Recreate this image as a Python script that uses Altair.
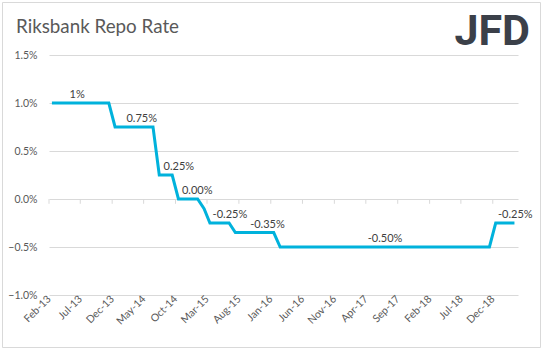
import altair as alt
import pandas as pd

# ---- data ----
month_str = [d.strftime("%Y-%m-") + "15" for d in pd.date_range("2013-02-01", periods=74, freq="MS")]

rate = [
    1.00, 1.00, 1.00, 1.00, 1.00, 1.00, 1.00, 1.00, 1.00, 1.00,   # Feb-13 .. Nov-13
    0.75, 0.75, 0.75, 0.75, 0.75, 0.75, 0.75,                     # Dec-13 .. Jun-14
    0.25, 0.25, 0.25,                                             # Jul-14 .. Sep-14
    0.00, 0.00, 0.00, 0.00,                                       # Oct-14 .. Jan-15
    -0.10,                                                        # Feb-15
    -0.25, -0.25, -0.25, -0.25,                                   # Mar-15 .. Jun-15
    -0.35, -0.35, -0.35, -0.35, -0.35, -0.35, -0.35,              # Jul-15 .. Jan-16
    -0.50, -0.50, -0.50, -0.50, -0.50, -0.50, -0.50, -0.50, -0.50, -0.50,
    -0.50, -0.50, -0.50, -0.50, -0.50, -0.50, -0.50, -0.50, -0.50, -0.50,
    -0.50, -0.50, -0.50, -0.50, -0.50, -0.50, -0.50, -0.50, -0.50, -0.50,
    -0.50, -0.50, -0.50, -0.50,                                   # Feb-16 .. Nov-18
    -0.25, -0.25, -0.25, -0.25,                                   # Dec-18 .. Mar-19
]

label_dates = ["2013-06-16", "2014-04-22", "2014-10-17", "2015-01-13",
               "2015-06-19", "2015-12-16", "2017-07-02", "2019-03-19"]
label_values = [1.00, 0.75, 0.25, 0.00, -0.25, -0.35, -0.50, -0.25]
label_texts = ["1%", "0.75%", "0.25%", "0.00%", "-0.25%", "-0.35%", "-0.50%", "-0.25%"]

tick_dates = ["2013-02-01", "2013-07-01", "2013-12-01", "2014-05-01", "2014-10-01",
              "2015-03-01", "2015-08-01", "2016-01-01", "2016-06-01", "2016-11-01",
              "2017-04-01", "2017-09-01", "2018-02-01", "2018-07-01", "2018-12-01"]
y_ticks = [-1.0, -0.5, 0.0, 0.5, 1.0, 1.5]

df = pd.DataFrame({"date": month_str, "rate": rate})
lab = pd.DataFrame({"date": label_dates, "rate": label_values, "text": label_texts})
ticks = pd.DataFrame({"date": tick_dates})

FONT = "Lato"
W, H = 469, 240

def dt(s):
    y, m, d = s.split("-")
    return alt.DateTime(year=int(y), month=int(m), date=int(d), utc=True)

xscale = alt.Scale(type="utc", domain=[dt("2013-02-01"), dt("2019-04-01")])
yscale = alt.Scale(domain=[-1.0, 1.5], nice=False, zero=False)

x_axis = alt.Axis(values=[dt(s) for s in tick_dates],
                  labelExpr="utcFormat(datum.value, '%b-%y')",
                  labelAngle=-45, labelAlign="right", labelBaseline="middle",
                  labelPadding=2, ticks=False, domain=False, grid=False,
                  title=None, labelFont=FONT, labelFontSize=10.5,
                  labelColor="#595959", labelOverlap=False, labelFlush=False,
                  labelBound=False)
y_axis = alt.Axis(values=y_ticks, labelExpr="format(datum.value, '.1f') + '%'",
                  ticks=False, domain=False, grid=True, gridColor="#d9d9d9",
                  labelPadding=12, title=None, labelFont=FONT, labelFontSize=10.5,
                  labelColor="#595959", labelOverlap=False)

x_enc = alt.X("date:T", scale=xscale, axis=x_axis, title=None)
y_enc = alt.Y("rate:Q", scale=yscale, axis=y_axis, title=None)

line = alt.Chart(df).mark_line(color="#00b2dc", strokeWidth=3, strokeJoin="miter").encode(
    x=x_enc, y=y_enc)

tick_marks = alt.Chart(ticks).mark_rule(color="#d9d9d9", strokeWidth=1).encode(
    x=x_enc,
    y=alt.datum(0.0),
    y2=alt.datum(-0.05),
)

labels = alt.Chart(lab).mark_text(font=FONT, fontSize=11, color="#404040", dy=-8).encode(
    x=x_enc,
    y=y_enc,
    text="text:N",
)

deco = alt.Data(values=[{}])
border = alt.Chart(deco).mark_rect(fill=None, stroke="#d9d9d9", strokeWidth=1).encode(
    x=alt.value(-46.5), x2=alt.value(491.5), y=alt.value(-52.5), y2=alt.value(292.5))

title = alt.Chart(deco).mark_text(text="Riksbank Repo Rate", font=FONT, fontSize=18.8,
                                  color="#595959", align="left", baseline="alphabetic").encode(
    x=alt.value(-33), y=alt.value(-22))

logo = alt.Chart(deco).mark_text(text="JFD", font="Roboto", fontWeight="bold", fontSize=43,
                                 color="#3b4049", align="right", baseline="alphabetic").encode(
    x=alt.value(481), y=alt.value(-10))

chart = alt.layer(line, tick_marks, labels, border, title, logo).properties(
    width=W, height=H,
    background="white",
    autosize=alt.AutoSizeParams(type="none"),
    padding={"left": 49, "top": 55, "right": 25, "bottom": 56},
).configure_view(stroke="transparent", strokeWidth=0).configure_axis(labelOverlap=False)

chart.save("out.html", embed_options={"renderer": "svg", "actions": False})
